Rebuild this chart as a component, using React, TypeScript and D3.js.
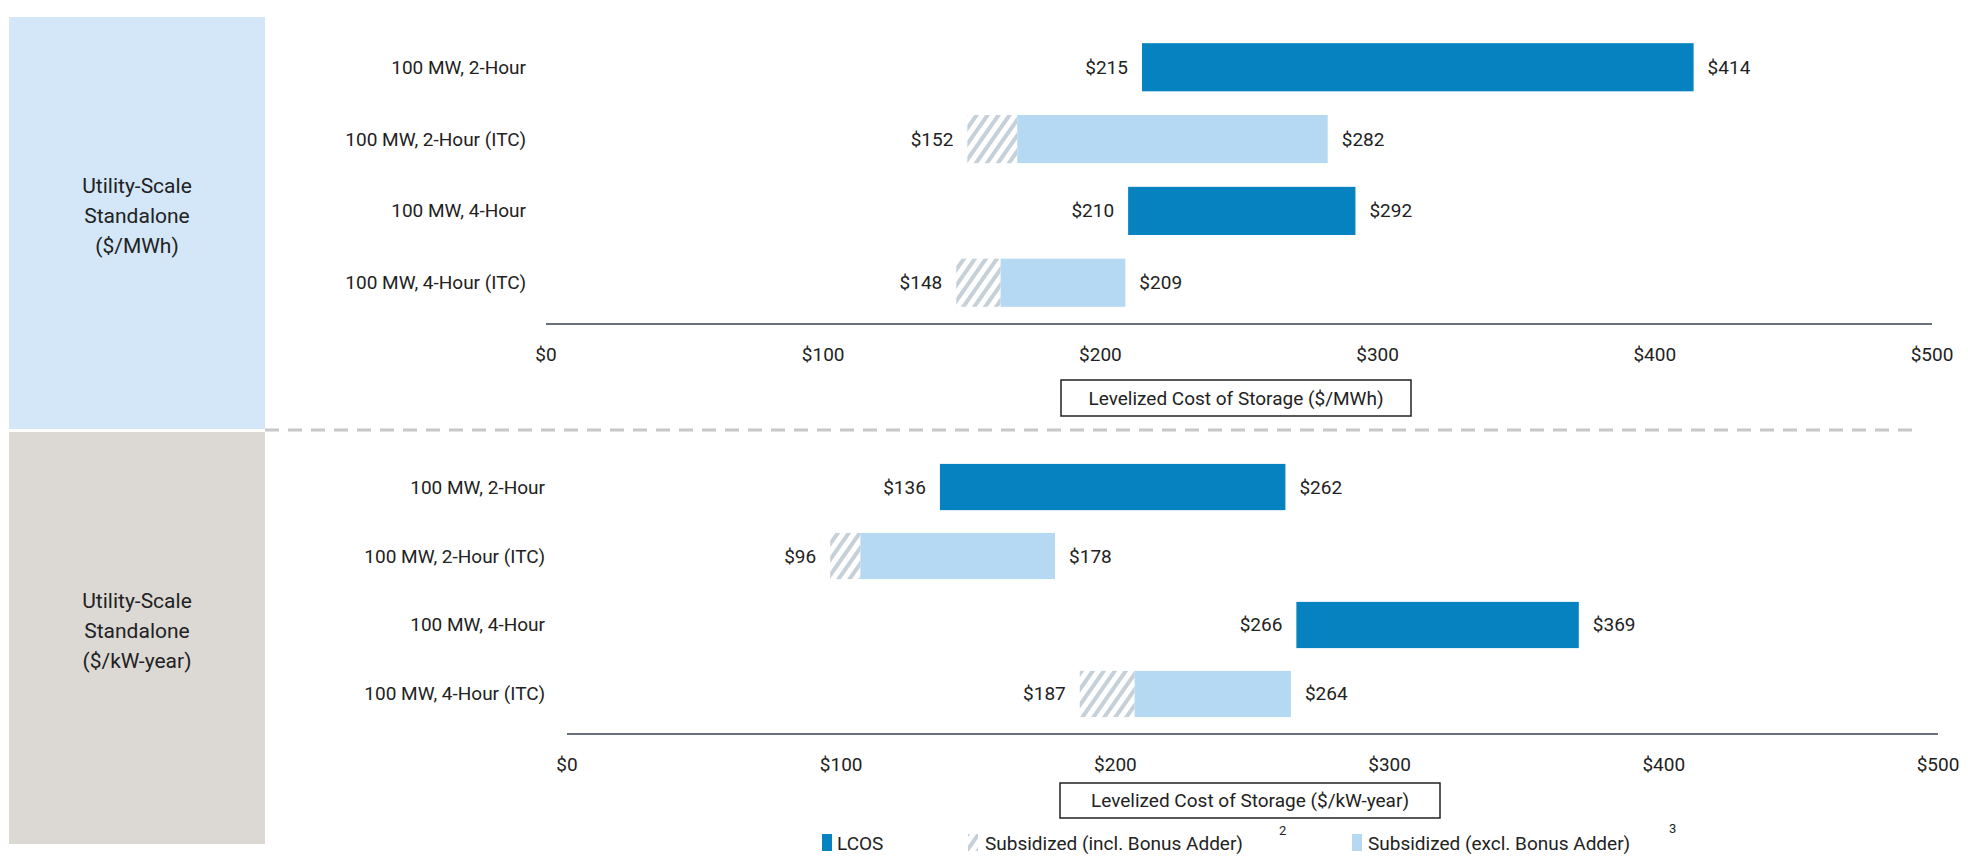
import * as d3 from "d3"

const topCats = ["100 MW, 2-Hour", "100 MW, 2-Hour (ITC)", "100 MW, 4-Hour", "100 MW, 4-Hour (ITC)"]
const topLow = [215, 152, 210, 148]
const topMid = [215, 170, 210, 164]
const topHigh = [414, 282, 292, 209]
const topSubsidized = [false, true, false, true]

const botCats = ["100 MW, 2-Hour", "100 MW, 2-Hour (ITC)", "100 MW, 4-Hour", "100 MW, 4-Hour (ITC)"]
const botLow = [136, 96, 266, 187]
const botMid = [136, 107, 266, 207]
const botHigh = [262, 178, 369, 264]
const botSubsidized = [false, true, false, true]

const ticks = [0, 100, 200, 300, 400, 500]

const DARK = "#0682c0"
const LIGHT = "#b5d9f3"
const FONT = "Roboto, 'Noto Sans', sans-serif"

type PanelProps = {
  cats: string[]
  low: number[]
  mid: number[]
  high: number[]
  sub: boolean[]
  x0: number
  x1: number
  yTop: number
  axisY: number
  labelRight: number
  title: string
  titleBox: [number, number, number, number]
}

function Panel(p: PanelProps) {
  const x = d3.scaleLinear().domain([0, 500]).range([p.x0, p.x1])
  const y = d3.scaleBand().domain(p.cats).range([p.yTop, p.axisY - 10]).paddingInner(0.33).paddingOuter(0.1)
  const fmt = (v: number) => `$${v}`
  return (
    <g fontFamily={FONT}>
      {p.cats.map((c, i) => {
        const by = y(c)!
        const bh = y.bandwidth()
        const cy = by + bh / 2
        return (
          <g key={c}>
            <text x={p.labelRight} y={cy} textAnchor="end" dominantBaseline="central" fontSize={19} fill="#222">{c}</text>
            {p.sub[i] && (
              <rect x={x(p.low[i])} y={by} width={x(p.mid[i]) - x(p.low[i])} height={bh} fill="url(#hatch)" />
            )}
            <rect x={x(p.mid[i])} y={by} width={x(p.high[i]) - x(p.mid[i])} height={bh} fill={p.sub[i] ? LIGHT : DARK} />
            <text x={x(p.low[i]) - 14} y={cy} textAnchor="end" dominantBaseline="central" fontSize={19} fill="#222">{fmt(p.low[i])}</text>
            <text x={x(p.high[i]) + 14} y={cy} dominantBaseline="central" fontSize={19} fill="#222">{fmt(p.high[i])}</text>
          </g>
        )
      })}
      <line x1={p.x0} x2={p.x1} y1={p.axisY} y2={p.axisY} stroke="#3a4250" strokeWidth={1.5} />
      {ticks.map((t) => (
        <text key={t} x={x(t)} y={p.axisY + 37} textAnchor="middle" fontSize={19} fill="#222">{fmt(t)}</text>
      ))}
      <rect x={p.titleBox[0]} y={p.titleBox[1]} width={p.titleBox[2]} height={p.titleBox[3]} fill="white" stroke="#222" strokeWidth={1.5} />
      <text x={p.titleBox[0] + p.titleBox[2] / 2} y={p.titleBox[1] + p.titleBox[3] / 2} textAnchor="middle" dominantBaseline="central" fontSize={19} fill="#222">{p.title}</text>
    </g>
  )
}

export default function App() {
  return (
    <svg width={1952} height={851} style={{ display: "block" }}>
      <defs>
        <pattern id="hatch" width="9" height="9" patternUnits="userSpaceOnUse" patternTransform="rotate(35)">
          <rect width="9" height="9" fill="white" />
          <rect width="4" height="9" fill="#c6d0d9" />
        </pattern>
      </defs>
      <g transform="translate(-8,-8)">
        <rect x={9} y={17} width={256} height={412} fill="#d3e7f8" />
        <rect x={9} y={432} width={256} height={412} fill="#dcd9d5" />
        <g fontFamily={FONT} fontSize={21} fill="#222" textAnchor="middle">
          <text x={137} y={193}>Utility-Scale</text>
          <text x={137} y={223}>Standalone</text>
          <text x={137} y={253}>($/MWh)</text>
          <text x={137} y={608}>Utility-Scale</text>
          <text x={137} y={638}>Standalone</text>
          <text x={137} y={668}>($/kW-year)</text>
        </g>
        <line x1={265} x2={1916} y1={430} y2={430} stroke="#c8c8c8" strokeWidth={3} strokeDasharray="14,9" />
        <Panel cats={topCats} low={topLow} mid={topMid} high={topHigh} sub={topSubsidized}
          x0={546} x1={1932} yTop={36} axisY={324} labelRight={526}
          title="Levelized Cost of Storage ($/MWh)" titleBox={[1061, 380, 350, 36]} />
        <Panel cats={botCats} low={botLow} mid={botMid} high={botHigh} sub={botSubsidized}
          x0={567} x1={1938} yTop={457} axisY={734} labelRight={545}
          title="Levelized Cost of Storage ($/kW-year)" titleBox={[1060, 783, 380, 35]} />
        <g fontFamily={FONT} fontSize={19} fill="#222">
          <rect x={822} y={834} width={10} height={17} fill={DARK} />
          <text x={837} y={843} dominantBaseline="central">LCOS</text>
          <rect x={968} y={834} width={10} height={17} fill="url(#hatch)" />
          <text x={985} y={843} dominantBaseline="central">Subsidized (incl. Bonus Adder)</text>
          <text x={1279} y={835} fontSize={13}>2</text>
          <rect x={1352} y={834} width={10} height={17} fill={LIGHT} />
          <text x={1368} y={843} dominantBaseline="central">Subsidized (excl. Bonus Adder)</text>
          <text x={1669} y={833} fontSize={13}>3</text>
        </g>
      </g>
    </svg>
  )
}
